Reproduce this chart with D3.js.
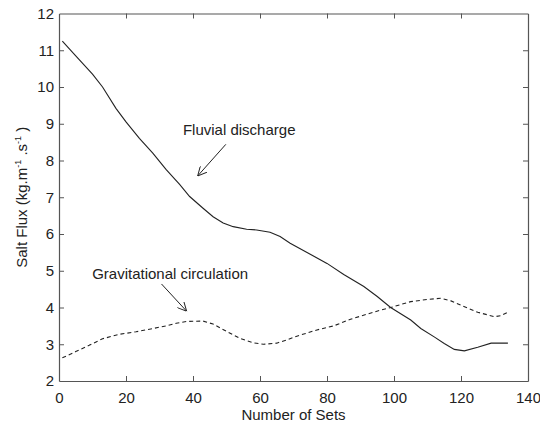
<!DOCTYPE html>
<html>
<head>
<meta charset="utf-8">
<script src="https://cdn.jsdelivr.net/npm/d3@7"></script>
<style>
  html, body { margin: 0; padding: 0; background: #fff; }
  svg { display: block; font-family: "Liberation Sans", Arial, sans-serif; }
</style>
</head>
<body>
<svg id="chart" width="540" height="423"></svg>
<script>
// --- data (x = set number, y = salt flux)
const fluvialX = [1, 5, 10, 13, 17, 20, 24, 28, 32, 36, 39, 43, 46, 49, 52, 56, 59, 63, 66, 69, 75, 80, 85, 91, 95, 99, 105, 108, 112, 115, 118, 121, 125, 129, 134];
const fluvialY = [11.25, 10.85, 10.35, 10.0, 9.42, 9.05, 8.6, 8.2, 7.75, 7.35, 7.02, 6.7, 6.47, 6.3, 6.2, 6.13, 6.11, 6.05, 5.93, 5.75, 5.45, 5.2, 4.9, 4.57, 4.3, 4.0, 3.66, 3.43, 3.2, 3.02, 2.86, 2.82, 2.92, 3.03, 3.03];

const gravX = [1, 5, 9, 13, 18, 23, 27, 32, 35, 38, 43, 46, 50, 54, 58, 61, 65, 68, 71, 77, 82, 87, 92, 96, 99, 105, 110, 114, 117, 120, 125, 130, 132, 134];
const gravY = [2.63, 2.8, 2.97, 3.15, 3.27, 3.34, 3.41, 3.5, 3.57, 3.62, 3.63, 3.55, 3.35, 3.16, 3.04, 3.0, 3.03, 3.12, 3.22, 3.39, 3.5, 3.68, 3.82, 3.93, 4.0, 4.16, 4.22, 4.25, 4.18, 4.06, 3.87, 3.75, 3.78, 3.87];

const xTicks = [0, 20, 40, 60, 80, 100, 120, 140];
const yTicks = [2, 3, 4, 5, 6, 7, 8, 9, 10, 11, 12];

// annotations in data units: label anchor, arrow tail, arrow head
const notes = [
  { text: "Fluvial discharge", lx: 37, ly: 8.69, ax0: 49.8, ay0: 8.44, ax1: 41.4, ay1: 7.58 },
  { text: "Gravitational circulation", lx: 9.9, ly: 4.78, ax0: 30.6, ay0: 4.64, ax1: 38.1, ay1: 3.9 }
];

const svg = d3.select("#chart");
const M = { left: 59, right: 12, top: 13.5, bottom: 42 };
const W = +svg.attr("width"), H = +svg.attr("height");

const x = d3.scaleLinear().domain([0, 140]).range([M.left, W - M.right]);
const y = d3.scaleLinear().domain([2, 12]).range([H - M.bottom, M.top]);

const ink = "#222";
const frame = "#555";

// arrow marker (open V)
svg.append("defs").append("marker")
  .attr("id", "arr").attr("viewBox", "0 0 10 10").attr("refX", 10).attr("refY", 5)
  .attr("markerWidth", 9).attr("markerHeight", 9).attr("markerUnits", "userSpaceOnUse")
  .attr("orient", "auto")
  .append("path").attr("d", "M0,0 L10,5 L0,10").attr("fill", "none")
  .attr("stroke", ink).attr("stroke-width", 1.1);

// axes with inward ticks, box style
const tick = 5;
const gx = svg.append("g").attr("transform", `translate(0,${y(2)})`)
  .call(d3.axisBottom(x).tickValues(xTicks).tickSizeInner(-tick).tickSizeOuter(0).tickPadding(11));
const gxTop = svg.append("g").attr("transform", `translate(0,${y(12)})`)
  .call(d3.axisTop(x).tickValues(xTicks).tickSizeInner(-tick).tickSizeOuter(0).tickFormat(""));
const gy = svg.append("g").attr("transform", `translate(${x(0)},0)`)
  .call(d3.axisLeft(y).tickValues(yTicks).tickSizeInner(-tick).tickSizeOuter(0).tickPadding(5));
const gyR = svg.append("g").attr("transform", `translate(${x(140)},0)`)
  .call(d3.axisRight(y).tickValues(yTicks).tickSizeInner(-tick).tickSizeOuter(0).tickFormat(""));

[gx, gxTop, gy, gyR].forEach(g => {
  g.select(".domain").attr("stroke", frame).attr("stroke-width", 1.2);
  g.selectAll(".tick line").attr("stroke", frame);
  g.selectAll(".tick text").attr("fill", ink).style("font-size", "15px")
    .style("font-family", "'Liberation Sans', Arial, sans-serif");
});
// drop ticks on the corners so the box stays clean
[gx, gxTop].forEach(g => g.selectAll(".tick").filter(d => d === 0 || d === 140).select("line").remove());
[gy, gyR].forEach(g => g.selectAll(".tick").filter(d => d === 2 || d === 12).select("line").remove());

// lines
const line = d3.line().x(d => x(d[0])).y(d => y(d[1]));
const fluvial = fluvialX.map((v, i) => [v, fluvialY[i]]);
const grav = gravX.map((v, i) => [v, gravY[i]]);

svg.append("path").datum(fluvial).attr("d", line)
  .attr("fill", "none").attr("stroke", ink).attr("stroke-width", 1.1);
svg.append("path").datum(grav).attr("d", line)
  .attr("fill", "none").attr("stroke", ink).attr("stroke-width", 1.1)
  .attr("stroke-dasharray", "4,3");

// annotations
notes.forEach(n => {
  svg.append("text").attr("x", x(n.lx)).attr("y", y(n.ly))
    .attr("fill", ink).style("font-size", "15px").text(n.text);
  svg.append("line")
    .attr("x1", x(n.ax0)).attr("y1", y(n.ay0)).attr("x2", x(n.ax1)).attr("y2", y(n.ay1))
    .attr("stroke", ink).attr("stroke-width", 1).attr("marker-end", "url(#arr)");
});

// axis titles
svg.append("text").attr("x", (x(0) + x(140)) / 2).attr("y", 420)
  .attr("text-anchor", "middle").attr("fill", ink).style("font-size", "15px")
  .text("Number of Sets");

const yl = svg.append("text")
  .attr("transform", `translate(27,${(y(2) + y(12)) / 2}) rotate(-90)`)
  .attr("text-anchor", "middle").attr("fill", ink).style("font-size", "15px");
yl.append("tspan").text("Salt Flux (kg.m");
yl.append("tspan").attr("dy", -6).style("font-size", "9px").text("-1");
yl.append("tspan").attr("dy", 6).text(" .s");
yl.append("tspan").attr("dy", -6).style("font-size", "9px").text("-1");
yl.append("tspan").attr("dy", 6).text(" )");
</script>
</body>
</html>
